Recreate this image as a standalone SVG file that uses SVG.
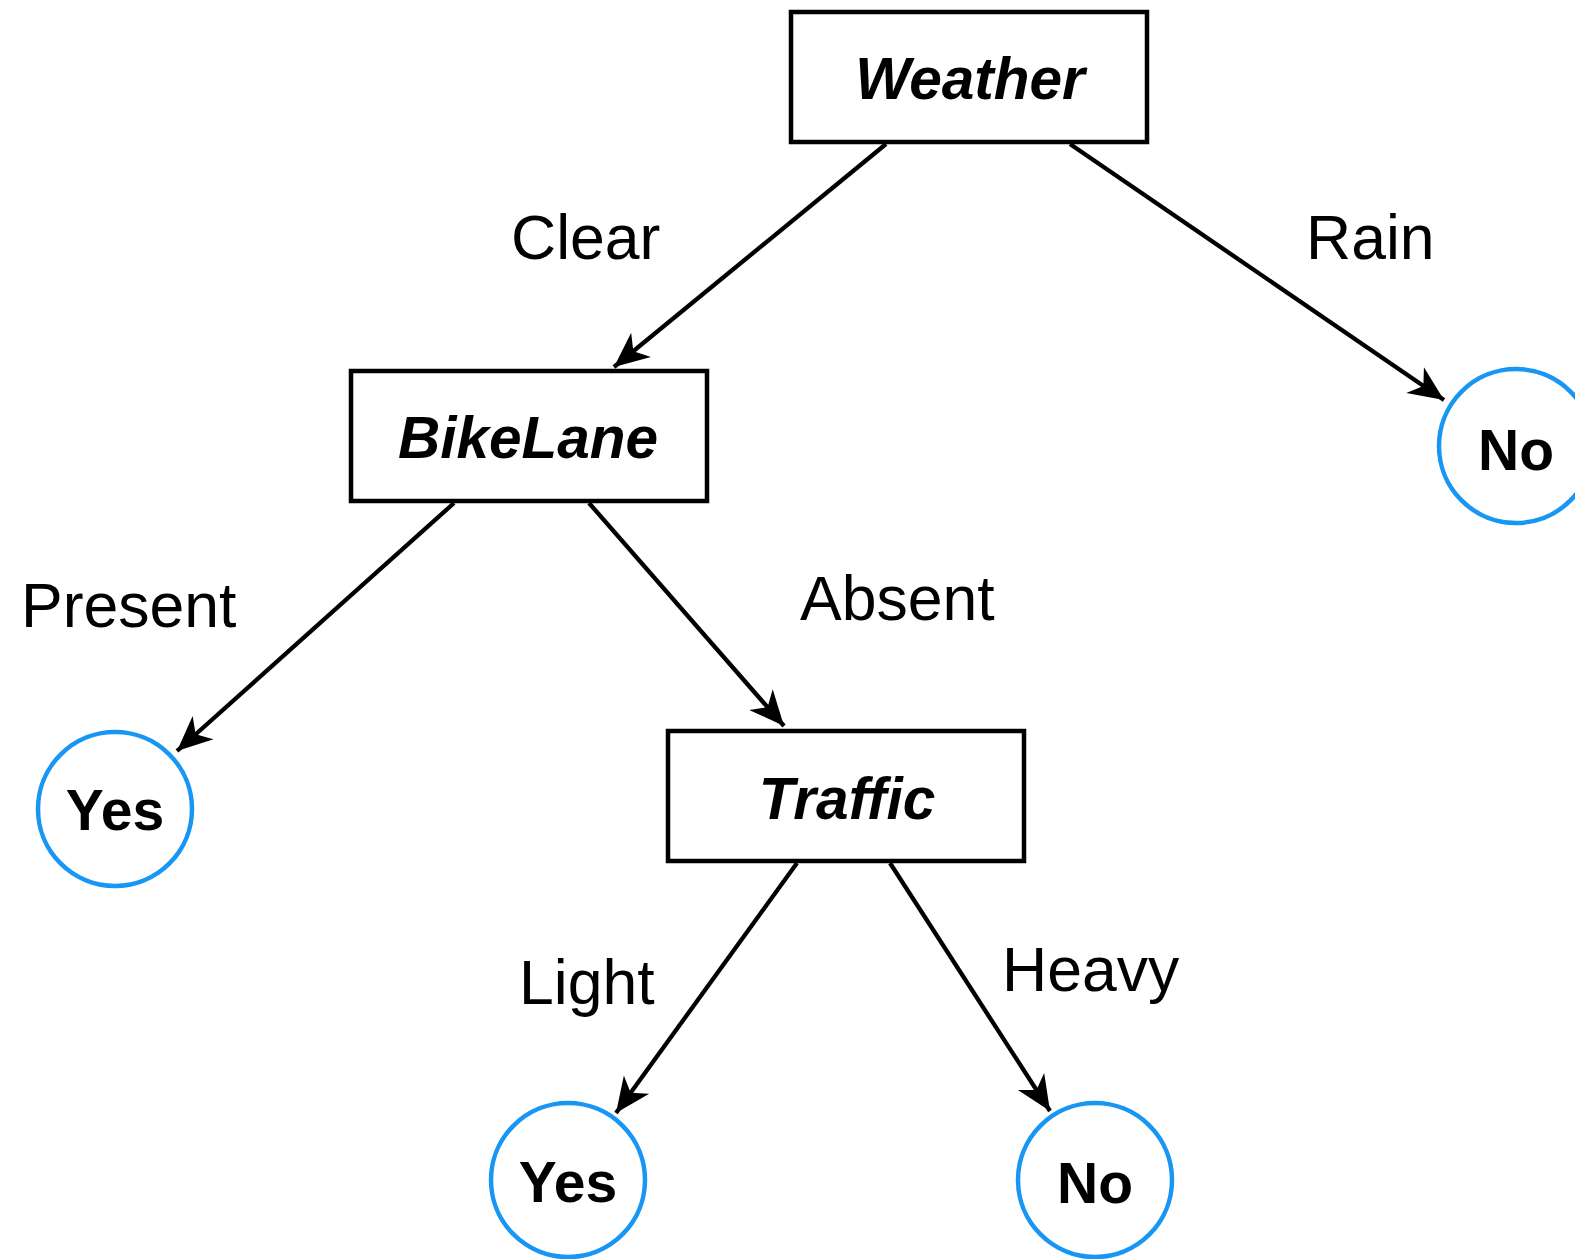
<svg xmlns="http://www.w3.org/2000/svg" width="1575" height="1259" viewBox="0 0 1575 1259">
<style>
.box{fill:#fff;stroke:#000;stroke-width:4.5}
.leaf{fill:#fff;stroke:#1896F4;stroke-width:4.5}
.attr{font-family:"Liberation Sans",Arial,sans-serif;font-weight:bold;font-style:italic;font-size:58.5px;text-anchor:middle;fill:#000}
.cls{font-family:"Liberation Sans",Arial,sans-serif;font-weight:bold;font-size:57px;text-anchor:middle;fill:#000}
.lbl{font-family:"Liberation Sans",Arial,sans-serif;font-size:62.5px;fill:#000}
.edge{stroke:#000;stroke-width:4.3;fill:none;marker-end:url(#arr)}
</style>
<defs>
<marker id="arr" markerUnits="userSpaceOnUse" orient="auto" markerWidth="40" markerHeight="40" refX="0" refY="0" viewBox="-30 -15 32 30" overflow="visible">
<path d="M0,0 L-28,-12.5 L-20,0 L-28,12.5 Z" fill="#000"/>
</marker>
</defs>
<rect width="1575" height="1259" fill="#fff"/>
<g id="edges">
<line class="edge" x1="886" y1="144" x2="614" y2="367"/>
<line class="edge" x1="1070" y1="144" x2="1444" y2="400"/>
<line class="edge" x1="454" y1="503" x2="177" y2="751"/>
<line class="edge" x1="589" y1="503" x2="784" y2="726"/>
<line class="edge" x1="797" y1="863" x2="616" y2="1113"/>
<line class="edge" x1="890" y1="863" x2="1050" y2="1111"/>
</g>
<g id="labels">
<text class="lbl" x="511" y="259">Clear</text>
<text class="lbl" x="1306" y="259">Rain</text>
<text class="lbl" x="21" y="627">Present</text>
<text class="lbl" x="800" y="620">Absent</text>
<text class="lbl" x="519" y="1004">Light</text>
<text class="lbl" x="1002" y="991">Heavy</text>
</g>
<g id="weather">
<rect class="box" x="791" y="12" width="356" height="130"/>
<text class="attr" x="970" y="99">Weather</text>
</g>
<g id="bikelane">
<rect class="box" x="351" y="371" width="356" height="130"/>
<text class="attr" x="528" y="458">BikeLane</text>
</g>
<g id="traffic">
<rect class="box" x="668" y="731" width="356" height="130"/>
<text class="attr" x="847" y="819">Traffic</text>
</g>
<g id="leaf-no-rain">
<circle class="leaf" cx="1516" cy="446" r="77"/>
<text class="cls" x="1516" y="470">No</text>
</g>
<g id="leaf-yes-present">
<circle class="leaf" cx="115" cy="809" r="77"/>
<text class="cls" x="115" y="830">Yes</text>
</g>
<g id="leaf-yes-light">
<circle class="leaf" cx="568" cy="1180" r="77"/>
<text class="cls" x="568" y="1202">Yes</text>
</g>
<g id="leaf-no-heavy">
<circle class="leaf" cx="1095" cy="1180" r="77"/>
<text class="cls" x="1095" y="1203">No</text>
</g>
</svg>
